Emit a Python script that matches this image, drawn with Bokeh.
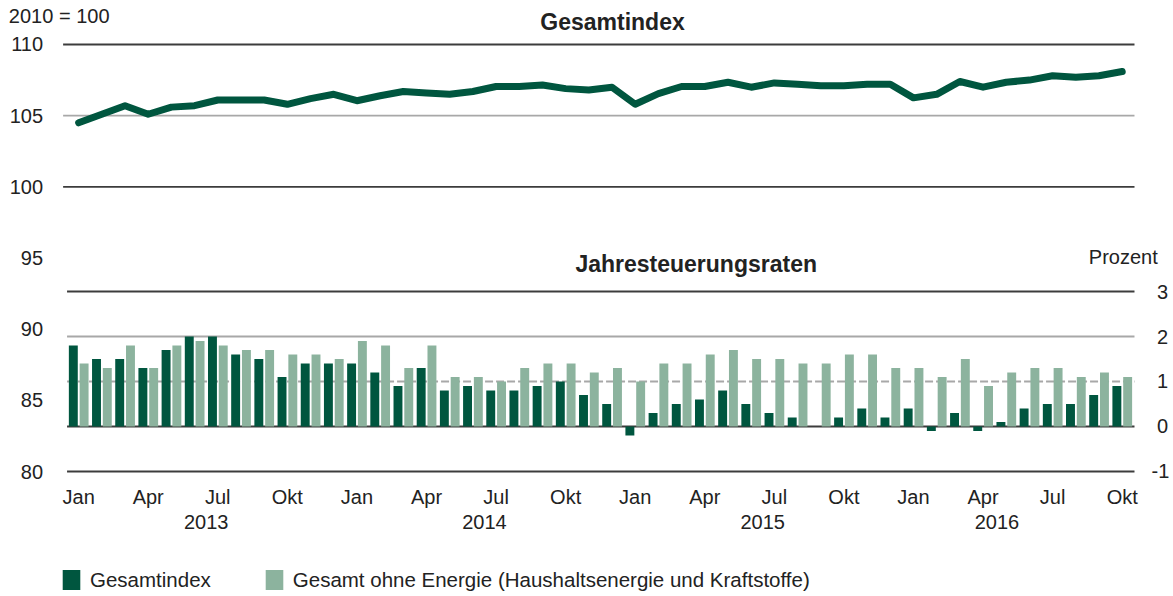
from bokeh.plotting import figure
from bokeh.models import (Range1d, LinearAxis, FixedTicker, Legend, LegendItem,
                          Label, ColumnDataSource)
from bokeh.transform import dodge
from bokeh.embed import file_html
from bokeh.resources import INLINE

# ---------------- data ----------------
month_names = ["Jan", "Feb", "Mär", "Apr", "Mai", "Jun", "Jul", "Aug", "Sep", "Okt", "Nov", "Dez"]
years = ["2013", "2014", "2015", "2016"]
year_label_pos = [5.5, 17.5, 29.5, 39.6]
months = list(range(46))  # Jan 2013 .. Okt 2016

index_values = [104.5, 105.1, 105.7, 105.1, 105.6, 105.7, 106.1, 106.1, 106.1, 105.8,
                106.2, 106.5, 106.05, 106.4, 106.7, 106.6, 106.5, 106.7, 107.05, 107.05,
                107.15, 106.9, 106.8, 107.0, 105.8, 106.55, 107.05, 107.05, 107.35, 107.0,
                107.3, 107.2, 107.1, 107.1, 107.2, 107.2, 106.25, 106.5, 107.4, 107.0,
                107.35, 107.5, 107.8, 107.7, 107.8, 108.1]

rate_total = [1.8, 1.5, 1.5, 1.3, 1.7, 2.0, 2.0, 1.6, 1.5, 1.1,
              1.4, 1.4, 1.4, 1.2, 0.9, 1.3, 0.8, 0.9, 0.8, 0.8,
              0.9, 1.0, 0.7, 0.5, -0.2, 0.3, 0.5, 0.6, 0.8, 0.5,
              0.3, 0.2, 0.0, 0.2, 0.4, 0.2, 0.4, -0.1, 0.3, -0.1,
              0.1, 0.4, 0.5, 0.5, 0.7, 0.9]

rate_core = [1.4, 1.3, 1.8, 1.3, 1.8, 1.9, 1.8, 1.7, 1.7, 1.6,
             1.6, 1.5, 1.9, 1.8, 1.3, 1.8, 1.1, 1.1, 1.0, 1.3,
             1.4, 1.4, 1.2, 1.3, 1.0, 1.4, 1.4, 1.6, 1.7, 1.5,
             1.5, 1.4, 1.4, 1.6, 1.6, 1.3, 1.3, 1.1, 1.5, 0.9,
             1.2, 1.3, 1.3, 1.1, 1.2, 1.1]

index_ticks = [80, 85, 90, 95, 100, 105, 110]
index_grid = [100, 105, 110]
rate_ticks = [-1, 0, 1, 2, 3]

DARK = "#00563F"
LIGHT = "#8CB39E"
TXT = "#222222"
GRID_DARK = "#3c3c3c"
GRID_GRAY = "#a8a8a8"
FONT = "Liberation Sans"

# plotting area in data units
X_LEFT, X_RIGHT = -0.67, 45.53
X_LEFT_LOWER = -0.5

src = ColumnDataSource(dict(month=months, idx=index_values, total=rate_total, core=rate_core))

# the frame covers the whole canvas; axes are drawn at fixed locations inside it
p = figure(width=1173, height=596, output_backend="svg", toolbar_location=None,
           x_range=Range1d(-3.370, 47.212), y_range=Range1d(71.218, 113.091),
           min_border=0, min_border_left=0, min_border_right=0,
           min_border_top=0, min_border_bottom=0,
           x_axis_location=None, y_axis_location=None)
p.extra_y_ranges = {"pct": Range1d(-3.778, 9.467)}
p.outline_line_color = None
p.grid.visible = False
p.background_fill_color = "white"
p.border_fill_color = "white"

# ---------------- grid lines ----------------
p.segment(x0=[X_LEFT] * 3, x1=[X_RIGHT] * 3, y0=index_grid, y1=index_grid,
          line_color=[GRID_DARK, GRID_GRAY, GRID_DARK], line_width=1.8)
solid_rate = [t for t in rate_ticks if t != 1]
p.segment(x0=[X_LEFT_LOWER] * len(solid_rate), x1=[X_RIGHT] * len(solid_rate),
          y0=solid_rate, y1=solid_rate, y_range_name="pct",
          line_color=[GRID_GRAY if t == 2 else GRID_DARK for t in solid_rate], line_width=1.8)
p.segment(x0=[X_LEFT_LOWER], x1=[X_RIGHT], y0=[1], y1=[1], y_range_name="pct",
          line_color=GRID_GRAY, line_width=1.8, line_dash="8 3")

# ---------------- axes ----------------
def style_axis(ax, standoff):
    ax.axis_line_color = None
    ax.major_tick_line_color = None
    ax.minor_tick_line_color = None
    ax.major_tick_in = 0
    ax.major_tick_out = 0
    ax.major_label_standoff = standoff
    ax.major_label_text_font = FONT
    ax.major_label_text_font_size = "20px"
    ax.major_label_text_color = TXT

yl = LinearAxis(ticker=FixedTicker(ticks=index_ticks), fixed_location=X_LEFT)
style_axis(yl, 20)
p.add_layout(yl, "left")

# right-hand labels: ASCII hyphen for the negative value, positive ones padded so they right-align
yr = LinearAxis(y_range_name="pct", ticker=FixedTicker(ticks=rate_ticks), fixed_location=X_RIGHT,
                major_label_overrides={t: (str(t) if t < 0 else "\u00a0" + str(t)) for t in rate_ticks})
style_axis(yr, 17)
p.add_layout(yr, "right")

month_ticks = [m for m in months if m % 3 == 0]
xb = LinearAxis(ticker=FixedTicker(ticks=month_ticks), fixed_location=80,
                major_label_overrides={m: month_names[m % 12] for m in month_ticks})
style_axis(xb, 14)
p.add_layout(xb, "below")

xy = LinearAxis(ticker=FixedTicker(ticks=year_label_pos), fixed_location=77.26,
                major_label_overrides={pos: y for pos, y in zip(year_label_pos, years)})
style_axis(xy, 4)
p.add_layout(xy, "below")

# ---------------- bars and line ----------------
r_total = p.vbar(x=dodge("month", -0.23, range=p.x_range), top="total", bottom=0, width=0.385,
                 source=src, y_range_name="pct", fill_color=DARK, line_color=None)
r_core = p.vbar(x=dodge("month", 0.235, range=p.x_range), top="core", bottom=0, width=0.385,
                source=src, y_range_name="pct", fill_color=LIGHT, line_color=None)
p.line(x="month", y="idx", source=src, line_color=DARK, line_width=7,
       line_join="round", line_cap="round")

# ---------------- legend ----------------
legend = Legend(items=[LegendItem(label="Gesamtindex", renderers=[r_total]),
                       LegendItem(label="Gesamt ohne Energie (Haushaltsenergie und Kraftstoffe)",
                                  renderers=[r_core])],
                location=(60, 4), orientation="horizontal",
                glyph_width=22, glyph_height=25, label_height=20, label_standoff=8,
                spacing=52, padding=0, margin=0,
                border_line_color=None, background_fill_alpha=0,
                label_text_font=FONT, label_text_font_size="20.5px", label_text_color=TXT)
p.add_layout(legend)

# ---------------- texts ----------------
p.add_layout(Label(x=-3.01, y=111.97, text="2010 = 100", text_font=FONT, text_font_size="20px",
                   text_color=TXT, text_align="left", text_baseline="alphabetic"))
p.add_layout(Label(x=23.02, y=111.60, text="Gesamtindex", text_font=FONT, text_font_size="23px",
                   text_font_style="bold", text_color=TXT, text_align="center",
                   text_baseline="alphabetic"))
p.add_layout(Label(x=26.63, y=94.58, text="Jahresteuerungsraten", text_font=FONT,
                   text_font_size="23px", text_font_style="bold", text_color=TXT,
                   text_align="center", text_baseline="alphabetic"))
p.add_layout(Label(x=43.56, y=95.07, text="Prozent", text_font=FONT, text_font_size="20px",
                   text_color=TXT, text_align="left", text_baseline="alphabetic"))

open("out.html", "w").write(file_html(p, INLINE))
